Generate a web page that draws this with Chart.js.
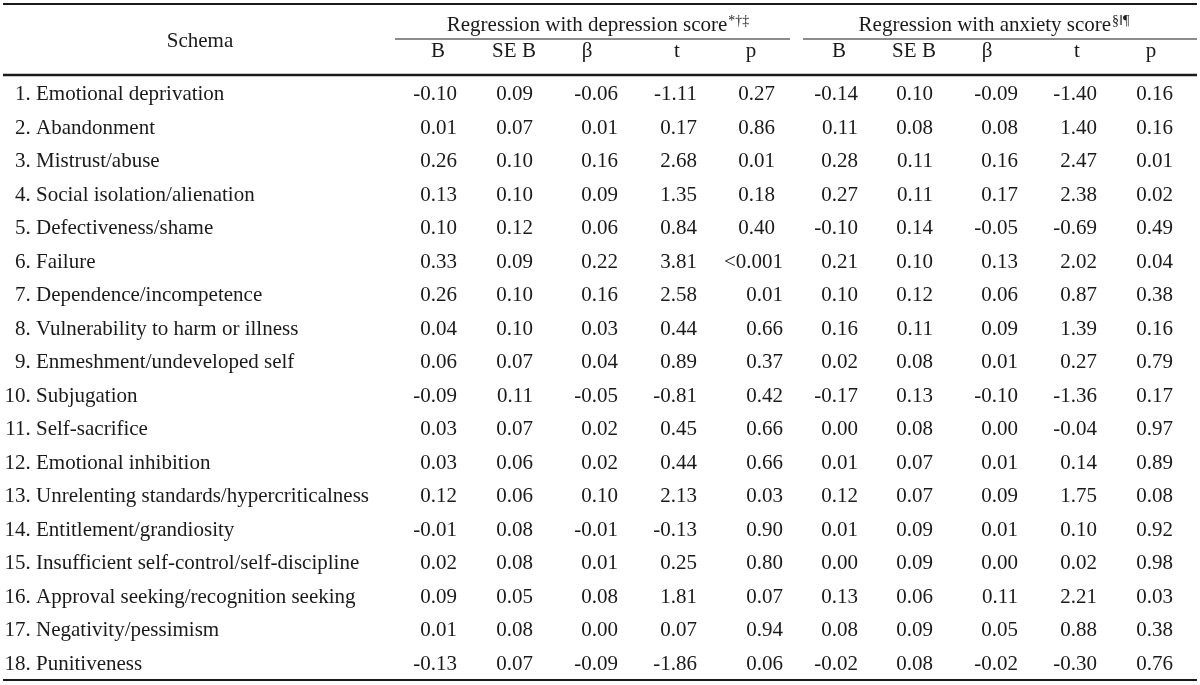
<!DOCTYPE html>
<html>
<head>
<meta charset="utf-8">
<script src="https://cdn.jsdelivr.net/npm/chart.js@4.4.1/dist/chart.umd.min.js"></script>
<style>
  body { margin: 0; background: #fff; }
  #wrap { width: 1200px; height: 685px; position: relative; }
</style>
</head>
<body>
<div id="wrap"><canvas id="myChart"></canvas></div>
<script>
var schemas = [
    "1. Emotional deprivation",
    "2. Abandonment",
    "3. Mistrust/abuse",
    "4. Social isolation/alienation",
    "5. Defectiveness/shame",
    "6. Failure",
    "7. Dependence/incompetence",
    "8. Vulnerability to harm or illness",
    "9. Enmeshment/undeveloped self",
    "10. Subjugation",
    "11. Self-sacrifice",
    "12. Emotional inhibition",
    "13. Unrelenting standards/hypercriticalness",
    "14. Entitlement/grandiosity",
    "15. Insufficient self-control/self-discipline",
    "16. Approval seeking/recognition seeking",
    "17. Negativity/pessimism",
    "18. Punitiveness"
]
var columnLabels = ["B", "SE B", "β", "t", "p"]
var groupLabels = ["Regression with depression score", "Regression with anxiety score"]
var groupMarks = ["*†‡", "§‖¶"]

var depB    = [-0.10, 0.01, 0.26, 0.13, 0.10, 0.33, 0.26, 0.04, 0.06, -0.09, 0.03, 0.03, 0.12, -0.01, 0.02, 0.09, 0.01, -0.13]
var depSE   = [0.09, 0.07, 0.10, 0.10, 0.12, 0.09, 0.10, 0.10, 0.07, 0.11, 0.07, 0.06, 0.06, 0.08, 0.08, 0.05, 0.08, 0.07]
var depBeta = [-0.06, 0.01, 0.16, 0.09, 0.06, 0.22, 0.16, 0.03, 0.04, -0.05, 0.02, 0.02, 0.10, -0.01, 0.01, 0.08, 0.00, -0.09]
var depT    = [-1.11, 0.17, 2.68, 1.35, 0.84, 3.81, 2.58, 0.44, 0.89, -0.81, 0.45, 0.44, 2.13, -0.13, 0.25, 1.81, 0.07, -1.86]
var depP    = ["0.27", "0.86", "0.01", "0.18", "0.40", "<0.001", "0.01", "0.66", "0.37", "0.42", "0.66", "0.66", "0.03", "0.90", "0.80", "0.07", "0.94", "0.06"]

var anxB    = [-0.14, 0.11, 0.28, 0.27, -0.10, 0.21, 0.10, 0.16, 0.02, -0.17, 0.00, 0.01, 0.12, 0.01, 0.00, 0.13, 0.08, -0.02]
var anxSE   = [0.10, 0.08, 0.11, 0.11, 0.14, 0.10, 0.12, 0.11, 0.08, 0.13, 0.08, 0.07, 0.07, 0.09, 0.09, 0.06, 0.09, 0.08]
var anxBeta = [-0.09, 0.08, 0.16, 0.17, -0.05, 0.13, 0.06, 0.09, 0.01, -0.10, 0.00, 0.01, 0.09, 0.01, 0.00, 0.11, 0.05, -0.02]
var anxT    = [-1.40, 1.40, 2.47, 2.38, -0.69, 2.02, 0.87, 1.39, 0.27, -1.36, -0.04, 0.14, 1.75, 0.10, 0.02, 2.21, 0.88, -0.30]
var anxP    = ["0.16", "0.16", "0.01", "0.02", "0.49", "0.04", "0.38", "0.16", "0.79", "0.17", "0.97", "0.89", "0.08", "0.92", "0.98", "0.03", "0.38", "0.76"]

var valueColumns = [depB, depSE, depBeta, depT, depP, anxB, anxSE, anxBeta, anxT, anxP]

// layout (x in canvas px units, y in row units)
var colRight  = [457, 533, 618, 697, 775, 858, 933, 1018, 1097, 1173]
var colCenter = [438, 514, 587, 677, 751, 839, 914, 987, 1077, 1151]
var groupCenter = [598, 994]
var groupLine = [[395, 790], [803, 1197]]
var rowStep = 33.53
var firstBaseline = 100

function rowOf(px) { return 1 + (px - firstBaseline) / rowStep }

var fontMain = '21px "Liberation Serif", "DejaVu Serif", serif'
var fontSup = '14px "Liberation Serif", "DejaVu Serif", serif'
var ink = "#1a1a1a"

const tablePlugin = {
    id: "tablePlugin",
    afterDraw(chart) {
        const ctx = chart.ctx
        const x = chart.scales.x
        const y = chart.scales.y
        ctx.save()
        ctx.fillStyle = ink
        ctx.strokeStyle = ink

        // rules
        function hline(x0, x1, row, w) {
            ctx.lineWidth = w
            ctx.beginPath()
            ctx.moveTo(x.getPixelForValue(x0), y.getPixelForValue(row))
            ctx.lineTo(x.getPixelForValue(x1), y.getPixelForValue(row))
            ctx.stroke()
        }
        hline(3, 1197, rowOf(4), 2)
        hline(groupLine[0][0], groupLine[0][1], rowOf(39), 1)
        hline(groupLine[1][0], groupLine[1][1], rowOf(39), 1)
        hline(3, 1197, rowOf(75), 2.5)
        hline(3, 1197, rowOf(680), 2)

        ctx.textBaseline = "alphabetic"
        ctx.font = fontMain

        // header
        ctx.textAlign = "center"
        ctx.fillText("Schema", x.getPixelForValue(200), y.getPixelForValue(rowOf(47)))

        for (var g = 0; g < 2; g++) {
            ctx.font = fontMain
            var w1 = ctx.measureText(groupLabels[g]).width
            ctx.font = fontSup
            var w2 = ctx.measureText(groupMarks[g]).width
            var left = x.getPixelForValue(groupCenter[g]) - (w1 + w2 + 1) / 2
            var base = y.getPixelForValue(rowOf(31))
            ctx.textAlign = "left"
            ctx.font = fontMain
            ctx.fillText(groupLabels[g], left, base)
            ctx.font = fontSup
            ctx.fillText(groupMarks[g], left + w1 + 1, base - 6)
        }

        ctx.font = fontMain
        ctx.textAlign = "center"
        for (var c = 0; c < colCenter.length; c++) {
            ctx.fillText(columnLabels[c % 5], x.getPixelForValue(colCenter[c]), y.getPixelForValue(rowOf(57)))
        }

        // body
        var oneW = ctx.measureText("1.").width
        for (var i = 0; i < schemas.length; i++) {
            var by = y.getPixelForValue(i + 1)
            var num = schemas[i].split(" ")[0]
            ctx.textAlign = "left"
            ctx.fillText(schemas[i], x.getPixelForValue(15) + oneW - ctx.measureText(num).width, by)

            ctx.textAlign = "right"
            for (var c = 0; c < valueColumns.length; c++) {
                var v = valueColumns[c][i]
                var txt = typeof v === "number" ? v.toFixed(2) : v
                var rx = colRight[c]
                if (c === 4 && i >= 5) rx = 783
                ctx.fillText(txt, x.getPixelForValue(rx), by)
            }
        }
        ctx.restore()
    }
}

const myChart = new Chart(document.getElementById("myChart"), {
    type: "scatter",
    data: { datasets: [{ data: [], pointRadius: 0 }] },
    options: {
        responsive: true,
        maintainAspectRatio: false,
        animation: false,
        events: [],
        layout: { padding: 0 },
        scales: {
            x: { type: "linear", min: 0, max: 1200, display: false },
            y: { type: "linear", min: rowOf(0), max: rowOf(685), reverse: true, display: false }
        },
        plugins: {
            legend: { display: false },
            tooltip: { enabled: false }
        }
    },
    plugins: [tablePlugin]
})
</script>
</body>
</html>
